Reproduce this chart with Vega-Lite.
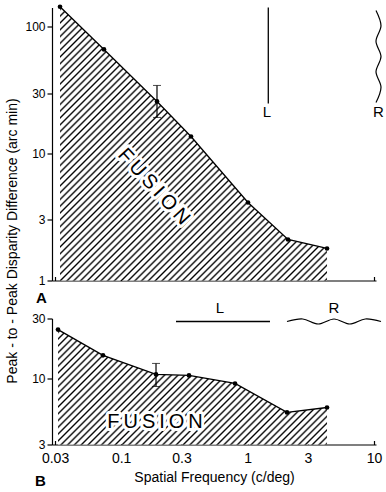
{
"$schema": "https://vega.github.io/schema/vega-lite/v6.json",
"background": "white",
"padding": {"left": 4, "top": 3.5, "right": 2, "bottom": 2},
"config": {
  "font": "Liberation Sans",
  "view": {"stroke": null},
  "axis": {"domainColor": "#000", "tickColor": "#000", "labelColor": "#000", "titleColor": "#000", "grid": false, "domainWidth": 1.2, "tickWidth": 1.2, "labelFlush": false},
  "text": {"color": "#000"}
},
"datasets": {
  "curveA": [{"f":0.03283,"v":144},{"f":0.07315,"v":66.3},{"f":0.1921,"v":25.8},{"f":0.3569,"v":13.65},{"f":1.008,"v":4.12},{"f":2.089,"v":2.105},{"f":4.253,"v":1.788}],
  "errA": [{"f":0.1921,"v":19.3,"v2":34.5}],
  "fusA": [{"label":"F\u2009U\u2009S\u2009I\u2009O\u2009N","f":0.1813,"v":5.49}],
  "lineLA": [{"i":0,"f":1.459,"v":142},{"i":1,"f":1.459,"v":24.86}],
  "waveA": [{"i":0,"f":10.38,"v":134.5},{"i":1,"f":11.37,"v":101.9},{"i":2,"f":10.38,"v":77.0},{"i":3,"f":11.37,"v":58.3},{"i":4,"f":10.38,"v":44.2},{"i":5,"f":11.37,"v":33.4},{"i":6,"f":10.38,"v":25.3}],
  "lblA": [{"label":"L","f":1.425,"v":19.28},{"label":"R","f":10.87,"v":19.28}],
  "tagA": [{"label":"A","f":0.0212,"v":0.659}],
  "curveB": [{"f":0.03166,"v":24.5},{"f":0.07186,"v":15.3},{"f":0.1887,"v":10.8},{"f":0.3441,"v":10.6},{"f":0.7957,"v":9.15},{"f":2.051,"v":5.39},{"f":4.253,"v":5.9}],
  "errB": [{"f":0.1887,"v":8.66,"v2":13.2}],
  "fusB": [{"label":"F\u2009U\u2009S\u2009I\u2009O\u2009N","f":0.1853,"v":4.53}],
  "lineLB": [{"i":0,"f":0.2716,"v":28.4},{"i":1,"f":1.505,"v":28.4}],
  "waveB": [{"i":0,"f":2.051,"v":28.4},{"i":1,"f":2.732,"v":29.73},{"i":2,"f":3.628,"v":27.13},{"i":3,"f":4.831,"v":29.73},{"i":4,"f":6.43,"v":27.13},{"i":5,"f":8.54,"v":29.73},{"i":6,"f":11.37,"v":28.4}],
  "lblB": [{"label":"L","f":0.6053,"v":32.9},{"label":"R","f":4.83,"v":32.9}],
  "tagB": [{"label":"B","f":0.02082,"v":1.393}]
},
"spacing": 38,
"bounds": "flush",
"vconcat": [
{
  "width": 324, "height": 273,
  "layer": [
    {"data": {"name": "curveA"},
     "mark": {"type": "area", "fill": {"gradient": "linear", "x1": 0, "y1": 0, "x2": 0.9914, "y2": 1.0167, "stops": [
{"offset":0.0015,"color":"#fff"},{"offset":0.005,"color":"#000"},{"offset":0.0085,"color":"#fff"},{"offset":0.014,"color":"#fff"},{"offset":0.0175,"color":"#000"},{"offset":0.021,"color":"#fff"},{"offset":0.0265,"color":"#fff"},{"offset":0.03,"color":"#000"},{"offset":0.0335,"color":"#fff"},{"offset":0.039,"color":"#fff"},{"offset":0.0425,"color":"#000"},{"offset":0.046,"color":"#fff"},{"offset":0.0515,"color":"#fff"},{"offset":0.055,"color":"#000"},{"offset":0.0585,"color":"#fff"},{"offset":0.064,"color":"#fff"},{"offset":0.0675,"color":"#000"},{"offset":0.071,"color":"#fff"},{"offset":0.0765,"color":"#fff"},{"offset":0.08,"color":"#000"},{"offset":0.0835,"color":"#fff"},{"offset":0.089,"color":"#fff"},{"offset":0.0925,"color":"#000"},{"offset":0.096,"color":"#fff"},
{"offset":0.1015,"color":"#fff"},{"offset":0.105,"color":"#000"},{"offset":0.1085,"color":"#fff"},{"offset":0.114,"color":"#fff"},{"offset":0.1175,"color":"#000"},{"offset":0.121,"color":"#fff"},{"offset":0.1265,"color":"#fff"},{"offset":0.13,"color":"#000"},{"offset":0.1335,"color":"#fff"},{"offset":0.139,"color":"#fff"},{"offset":0.1425,"color":"#000"},{"offset":0.146,"color":"#fff"},{"offset":0.1515,"color":"#fff"},{"offset":0.155,"color":"#000"},{"offset":0.1585,"color":"#fff"},{"offset":0.164,"color":"#fff"},{"offset":0.1675,"color":"#000"},{"offset":0.171,"color":"#fff"},{"offset":0.1765,"color":"#fff"},{"offset":0.18,"color":"#000"},{"offset":0.1835,"color":"#fff"},{"offset":0.189,"color":"#fff"},{"offset":0.1925,"color":"#000"},{"offset":0.196,"color":"#fff"},
{"offset":0.2015,"color":"#fff"},{"offset":0.205,"color":"#000"},{"offset":0.2085,"color":"#fff"},{"offset":0.214,"color":"#fff"},{"offset":0.2175,"color":"#000"},{"offset":0.221,"color":"#fff"},{"offset":0.2265,"color":"#fff"},{"offset":0.23,"color":"#000"},{"offset":0.2335,"color":"#fff"},{"offset":0.239,"color":"#fff"},{"offset":0.2425,"color":"#000"},{"offset":0.246,"color":"#fff"},{"offset":0.2515,"color":"#fff"},{"offset":0.255,"color":"#000"},{"offset":0.2585,"color":"#fff"},{"offset":0.264,"color":"#fff"},{"offset":0.2675,"color":"#000"},{"offset":0.271,"color":"#fff"},{"offset":0.2765,"color":"#fff"},{"offset":0.28,"color":"#000"},{"offset":0.2835,"color":"#fff"},{"offset":0.289,"color":"#fff"},{"offset":0.2925,"color":"#000"},{"offset":0.296,"color":"#fff"},
{"offset":0.3015,"color":"#fff"},{"offset":0.305,"color":"#000"},{"offset":0.3085,"color":"#fff"},{"offset":0.314,"color":"#fff"},{"offset":0.3175,"color":"#000"},{"offset":0.321,"color":"#fff"},{"offset":0.3265,"color":"#fff"},{"offset":0.33,"color":"#000"},{"offset":0.3335,"color":"#fff"},{"offset":0.339,"color":"#fff"},{"offset":0.3425,"color":"#000"},{"offset":0.346,"color":"#fff"},{"offset":0.3515,"color":"#fff"},{"offset":0.355,"color":"#000"},{"offset":0.3585,"color":"#fff"},{"offset":0.364,"color":"#fff"},{"offset":0.3675,"color":"#000"},{"offset":0.371,"color":"#fff"},{"offset":0.3765,"color":"#fff"},{"offset":0.38,"color":"#000"},{"offset":0.3835,"color":"#fff"},{"offset":0.389,"color":"#fff"},{"offset":0.3925,"color":"#000"},{"offset":0.396,"color":"#fff"},
{"offset":0.4015,"color":"#fff"},{"offset":0.405,"color":"#000"},{"offset":0.4085,"color":"#fff"},{"offset":0.414,"color":"#fff"},{"offset":0.4175,"color":"#000"},{"offset":0.421,"color":"#fff"},{"offset":0.4265,"color":"#fff"},{"offset":0.43,"color":"#000"},{"offset":0.4335,"color":"#fff"},{"offset":0.439,"color":"#fff"},{"offset":0.4425,"color":"#000"},{"offset":0.446,"color":"#fff"},{"offset":0.4515,"color":"#fff"},{"offset":0.455,"color":"#000"},{"offset":0.4585,"color":"#fff"},{"offset":0.464,"color":"#fff"},{"offset":0.4675,"color":"#000"},{"offset":0.471,"color":"#fff"},{"offset":0.4765,"color":"#fff"},{"offset":0.48,"color":"#000"},{"offset":0.4835,"color":"#fff"},{"offset":0.489,"color":"#fff"},{"offset":0.4925,"color":"#000"},{"offset":0.496,"color":"#fff"},
{"offset":0.5015,"color":"#fff"},{"offset":0.505,"color":"#000"},{"offset":0.5085,"color":"#fff"},{"offset":0.514,"color":"#fff"},{"offset":0.5175,"color":"#000"},{"offset":0.521,"color":"#fff"},{"offset":0.5265,"color":"#fff"},{"offset":0.53,"color":"#000"},{"offset":0.5335,"color":"#fff"},{"offset":0.539,"color":"#fff"},{"offset":0.5425,"color":"#000"},{"offset":0.546,"color":"#fff"},{"offset":0.5515,"color":"#fff"},{"offset":0.555,"color":"#000"},{"offset":0.5585,"color":"#fff"},{"offset":0.564,"color":"#fff"},{"offset":0.5675,"color":"#000"},{"offset":0.571,"color":"#fff"},{"offset":0.5765,"color":"#fff"},{"offset":0.58,"color":"#000"},{"offset":0.5835,"color":"#fff"},{"offset":0.589,"color":"#fff"},{"offset":0.5925,"color":"#000"},{"offset":0.596,"color":"#fff"},
{"offset":0.6015,"color":"#fff"},{"offset":0.605,"color":"#000"},{"offset":0.6085,"color":"#fff"},{"offset":0.614,"color":"#fff"},{"offset":0.6175,"color":"#000"},{"offset":0.621,"color":"#fff"},{"offset":0.6265,"color":"#fff"},{"offset":0.63,"color":"#000"},{"offset":0.6335,"color":"#fff"},{"offset":0.639,"color":"#fff"},{"offset":0.6425,"color":"#000"},{"offset":0.646,"color":"#fff"},{"offset":0.6515,"color":"#fff"},{"offset":0.655,"color":"#000"},{"offset":0.6585,"color":"#fff"},{"offset":0.664,"color":"#fff"},{"offset":0.6675,"color":"#000"},{"offset":0.671,"color":"#fff"},{"offset":0.6765,"color":"#fff"},{"offset":0.68,"color":"#000"},{"offset":0.6835,"color":"#fff"},{"offset":0.689,"color":"#fff"},{"offset":0.6925,"color":"#000"},{"offset":0.696,"color":"#fff"},
{"offset":0.7015,"color":"#fff"},{"offset":0.705,"color":"#000"},{"offset":0.7085,"color":"#fff"},{"offset":0.714,"color":"#fff"},{"offset":0.7175,"color":"#000"},{"offset":0.721,"color":"#fff"},{"offset":0.7265,"color":"#fff"},{"offset":0.73,"color":"#000"},{"offset":0.7335,"color":"#fff"},{"offset":0.739,"color":"#fff"},{"offset":0.7425,"color":"#000"},{"offset":0.746,"color":"#fff"},{"offset":0.7515,"color":"#fff"},{"offset":0.755,"color":"#000"},{"offset":0.7585,"color":"#fff"},{"offset":0.764,"color":"#fff"},{"offset":0.7675,"color":"#000"},{"offset":0.771,"color":"#fff"},{"offset":0.7765,"color":"#fff"},{"offset":0.78,"color":"#000"},{"offset":0.7835,"color":"#fff"},{"offset":0.789,"color":"#fff"},{"offset":0.7925,"color":"#000"},{"offset":0.796,"color":"#fff"},
{"offset":0.8015,"color":"#fff"},{"offset":0.805,"color":"#000"},{"offset":0.8085,"color":"#fff"},{"offset":0.814,"color":"#fff"},{"offset":0.8175,"color":"#000"},{"offset":0.821,"color":"#fff"},{"offset":0.8265,"color":"#fff"},{"offset":0.83,"color":"#000"},{"offset":0.8335,"color":"#fff"},{"offset":0.839,"color":"#fff"},{"offset":0.8425,"color":"#000"},{"offset":0.846,"color":"#fff"},{"offset":0.8515,"color":"#fff"},{"offset":0.855,"color":"#000"},{"offset":0.8585,"color":"#fff"},{"offset":0.864,"color":"#fff"},{"offset":0.8675,"color":"#000"},{"offset":0.871,"color":"#fff"},{"offset":0.8765,"color":"#fff"},{"offset":0.88,"color":"#000"},{"offset":0.8835,"color":"#fff"},{"offset":0.889,"color":"#fff"},{"offset":0.8925,"color":"#000"},{"offset":0.896,"color":"#fff"},
{"offset":0.9015,"color":"#fff"},{"offset":0.905,"color":"#000"},{"offset":0.9085,"color":"#fff"},{"offset":0.914,"color":"#fff"},{"offset":0.9175,"color":"#000"},{"offset":0.921,"color":"#fff"},{"offset":0.9265,"color":"#fff"},{"offset":0.93,"color":"#000"},{"offset":0.9335,"color":"#fff"},{"offset":0.939,"color":"#fff"},{"offset":0.9425,"color":"#000"},{"offset":0.946,"color":"#fff"},{"offset":0.9515,"color":"#fff"},{"offset":0.955,"color":"#000"},{"offset":0.9585,"color":"#fff"},{"offset":0.964,"color":"#fff"},{"offset":0.9675,"color":"#000"},{"offset":0.971,"color":"#fff"},{"offset":0.9765,"color":"#fff"},{"offset":0.98,"color":"#000"},{"offset":0.9835,"color":"#fff"},{"offset":0.989,"color":"#fff"},{"offset":0.9925,"color":"#000"},{"offset":0.996,"color":"#fff"}
     ]}},
     "encoding": {
       "x": {"field": "f", "type": "quantitative", "scale": {"type": "log", "domain": [0.02837, 10.38], "nice": false},
             "axis": {"values": [0.03, 0.1, 0.3, 1, 3, 10], "labels": false, "tickSize": -4, "title": null}},
       "y": {"field": "v", "type": "quantitative", "scale": {"type": "log", "domain": [1, 142], "nice": false},
             "axis": {"values": [1, 3, 10, 30, 100], "format": "~g", "tickSize": 5, "labelFontSize": 12, "labelPadding": 2,
                      "title": "Peak - to - Peak Disparity Difference (arc min)", "titleFontSize": 14, "titleFontWeight": "normal",
                      "titleAngle": 270, "titleBaseline": "alphabetic", "titleAlign": "center", "titleX": -36, "titleY": 233}},
       "y2": {"datum": 1}
     }},
    {"data": {"name": "fusA"},
     "mark": {"type": "text", "angle": 47.5, "fontSize": 20, "align": "center", "baseline": "middle", "fill": "#fff", "stroke": "#fff", "strokeWidth": 6, "strokeJoin": "round"},
     "encoding": {"x": {"field": "f", "type": "quantitative"}, "y": {"field": "v", "type": "quantitative"}, "text": {"field": "label"}}},
    {"data": {"name": "fusA"},
     "mark": {"type": "text", "angle": 47.5, "fontSize": 20, "align": "center", "baseline": "middle", "fill": "#000"},
     "encoding": {"x": {"field": "f", "type": "quantitative"}, "y": {"field": "v", "type": "quantitative"}, "text": {"field": "label"}}},
    {"data": {"name": "curveA"},
     "mark": {"type": "line", "color": "#000", "strokeWidth": 1.3},
     "encoding": {"x": {"field": "f", "type": "quantitative"}, "y": {"field": "v", "type": "quantitative"}}},
    {"data": {"name": "curveA"},
     "mark": {"type": "point", "filled": true, "color": "#000", "opacity": 1, "size": 22},
     "encoding": {"x": {"field": "f", "type": "quantitative"}, "y": {"field": "v", "type": "quantitative"}}},
    {"data": {"name": "errA"},
     "mark": {"type": "errorbar", "color": "#000", "ticks": {"size": 8, "color": "#000"}, "rule": {"color": "#000", "strokeWidth": 1.2}},
     "encoding": {"x": {"field": "f", "type": "quantitative"}, "y": {"field": "v", "type": "quantitative", "title": "Peak - to - Peak Disparity Difference (arc min)"}, "y2": {"field": "v2"}}},
    {"data": {"name": "lineLA"},
     "mark": {"type": "line", "color": "#000", "strokeWidth": 1.3},
     "encoding": {"x": {"field": "f", "type": "quantitative"}, "y": {"field": "v", "type": "quantitative"}, "order": {"field": "i", "type": "quantitative"}}},
    {"data": {"name": "waveA"},
     "mark": {"type": "line", "color": "#000", "strokeWidth": 1.2, "interpolate": "cardinal"},
     "encoding": {"x": {"field": "f", "type": "quantitative"}, "y": {"field": "v", "type": "quantitative"}, "order": {"field": "i", "type": "quantitative"}}},
    {"data": {"name": "lblA"},
     "mark": {"type": "text", "fontSize": 15, "align": "center", "baseline": "alphabetic"},
     "encoding": {"x": {"field": "f", "type": "quantitative"}, "y": {"field": "v", "type": "quantitative"}, "text": {"field": "label"}}},
    {"data": {"name": "tagA"},
     "mark": {"type": "text", "fontSize": 15, "fontWeight": "bold", "align": "left", "baseline": "alphabetic"},
     "encoding": {"x": {"field": "f", "type": "quantitative"}, "y": {"field": "v", "type": "quantitative"}, "text": {"field": "label"}}}
  ]
},
{
  "width": 324, "height": 126,
  "layer": [
    {"data": {"name": "curveB"},
     "mark": {"type": "area", "fill": {"gradient": "linear", "x1": 0, "y1": 0, "x2": 1.7073, "y2": 0.7292, "stops": [
{"offset":0.0015,"color":"#fff"},{"offset":0.005,"color":"#000"},{"offset":0.0085,"color":"#fff"},{"offset":0.014,"color":"#fff"},{"offset":0.0175,"color":"#000"},{"offset":0.021,"color":"#fff"},{"offset":0.0265,"color":"#fff"},{"offset":0.03,"color":"#000"},{"offset":0.0335,"color":"#fff"},{"offset":0.039,"color":"#fff"},{"offset":0.0425,"color":"#000"},{"offset":0.046,"color":"#fff"},{"offset":0.0515,"color":"#fff"},{"offset":0.055,"color":"#000"},{"offset":0.0585,"color":"#fff"},{"offset":0.064,"color":"#fff"},{"offset":0.0675,"color":"#000"},{"offset":0.071,"color":"#fff"},{"offset":0.0765,"color":"#fff"},{"offset":0.08,"color":"#000"},{"offset":0.0835,"color":"#fff"},{"offset":0.089,"color":"#fff"},{"offset":0.0925,"color":"#000"},{"offset":0.096,"color":"#fff"},
{"offset":0.1015,"color":"#fff"},{"offset":0.105,"color":"#000"},{"offset":0.1085,"color":"#fff"},{"offset":0.114,"color":"#fff"},{"offset":0.1175,"color":"#000"},{"offset":0.121,"color":"#fff"},{"offset":0.1265,"color":"#fff"},{"offset":0.13,"color":"#000"},{"offset":0.1335,"color":"#fff"},{"offset":0.139,"color":"#fff"},{"offset":0.1425,"color":"#000"},{"offset":0.146,"color":"#fff"},{"offset":0.1515,"color":"#fff"},{"offset":0.155,"color":"#000"},{"offset":0.1585,"color":"#fff"},{"offset":0.164,"color":"#fff"},{"offset":0.1675,"color":"#000"},{"offset":0.171,"color":"#fff"},{"offset":0.1765,"color":"#fff"},{"offset":0.18,"color":"#000"},{"offset":0.1835,"color":"#fff"},{"offset":0.189,"color":"#fff"},{"offset":0.1925,"color":"#000"},{"offset":0.196,"color":"#fff"},
{"offset":0.2015,"color":"#fff"},{"offset":0.205,"color":"#000"},{"offset":0.2085,"color":"#fff"},{"offset":0.214,"color":"#fff"},{"offset":0.2175,"color":"#000"},{"offset":0.221,"color":"#fff"},{"offset":0.2265,"color":"#fff"},{"offset":0.23,"color":"#000"},{"offset":0.2335,"color":"#fff"},{"offset":0.239,"color":"#fff"},{"offset":0.2425,"color":"#000"},{"offset":0.246,"color":"#fff"},{"offset":0.2515,"color":"#fff"},{"offset":0.255,"color":"#000"},{"offset":0.2585,"color":"#fff"},{"offset":0.264,"color":"#fff"},{"offset":0.2675,"color":"#000"},{"offset":0.271,"color":"#fff"},{"offset":0.2765,"color":"#fff"},{"offset":0.28,"color":"#000"},{"offset":0.2835,"color":"#fff"},{"offset":0.289,"color":"#fff"},{"offset":0.2925,"color":"#000"},{"offset":0.296,"color":"#fff"},
{"offset":0.3015,"color":"#fff"},{"offset":0.305,"color":"#000"},{"offset":0.3085,"color":"#fff"},{"offset":0.314,"color":"#fff"},{"offset":0.3175,"color":"#000"},{"offset":0.321,"color":"#fff"},{"offset":0.3265,"color":"#fff"},{"offset":0.33,"color":"#000"},{"offset":0.3335,"color":"#fff"},{"offset":0.339,"color":"#fff"},{"offset":0.3425,"color":"#000"},{"offset":0.346,"color":"#fff"},{"offset":0.3515,"color":"#fff"},{"offset":0.355,"color":"#000"},{"offset":0.3585,"color":"#fff"},{"offset":0.364,"color":"#fff"},{"offset":0.3675,"color":"#000"},{"offset":0.371,"color":"#fff"},{"offset":0.3765,"color":"#fff"},{"offset":0.38,"color":"#000"},{"offset":0.3835,"color":"#fff"},{"offset":0.389,"color":"#fff"},{"offset":0.3925,"color":"#000"},{"offset":0.396,"color":"#fff"},
{"offset":0.4015,"color":"#fff"},{"offset":0.405,"color":"#000"},{"offset":0.4085,"color":"#fff"},{"offset":0.414,"color":"#fff"},{"offset":0.4175,"color":"#000"},{"offset":0.421,"color":"#fff"},{"offset":0.4265,"color":"#fff"},{"offset":0.43,"color":"#000"},{"offset":0.4335,"color":"#fff"},{"offset":0.439,"color":"#fff"},{"offset":0.4425,"color":"#000"},{"offset":0.446,"color":"#fff"},{"offset":0.4515,"color":"#fff"},{"offset":0.455,"color":"#000"},{"offset":0.4585,"color":"#fff"},{"offset":0.464,"color":"#fff"},{"offset":0.4675,"color":"#000"},{"offset":0.471,"color":"#fff"},{"offset":0.4765,"color":"#fff"},{"offset":0.48,"color":"#000"},{"offset":0.4835,"color":"#fff"},{"offset":0.489,"color":"#fff"},{"offset":0.4925,"color":"#000"},{"offset":0.496,"color":"#fff"},
{"offset":0.5015,"color":"#fff"},{"offset":0.505,"color":"#000"},{"offset":0.5085,"color":"#fff"},{"offset":0.514,"color":"#fff"},{"offset":0.5175,"color":"#000"},{"offset":0.521,"color":"#fff"},{"offset":0.5265,"color":"#fff"},{"offset":0.53,"color":"#000"},{"offset":0.5335,"color":"#fff"},{"offset":0.539,"color":"#fff"},{"offset":0.5425,"color":"#000"},{"offset":0.546,"color":"#fff"},{"offset":0.5515,"color":"#fff"},{"offset":0.555,"color":"#000"},{"offset":0.5585,"color":"#fff"},{"offset":0.564,"color":"#fff"},{"offset":0.5675,"color":"#000"},{"offset":0.571,"color":"#fff"},{"offset":0.5765,"color":"#fff"},{"offset":0.58,"color":"#000"},{"offset":0.5835,"color":"#fff"},{"offset":0.589,"color":"#fff"},{"offset":0.5925,"color":"#000"},{"offset":0.596,"color":"#fff"},
{"offset":0.6015,"color":"#fff"},{"offset":0.605,"color":"#000"},{"offset":0.6085,"color":"#fff"},{"offset":0.614,"color":"#fff"},{"offset":0.6175,"color":"#000"},{"offset":0.621,"color":"#fff"},{"offset":0.6265,"color":"#fff"},{"offset":0.63,"color":"#000"},{"offset":0.6335,"color":"#fff"},{"offset":0.639,"color":"#fff"},{"offset":0.6425,"color":"#000"},{"offset":0.646,"color":"#fff"},{"offset":0.6515,"color":"#fff"},{"offset":0.655,"color":"#000"},{"offset":0.6585,"color":"#fff"},{"offset":0.664,"color":"#fff"},{"offset":0.6675,"color":"#000"},{"offset":0.671,"color":"#fff"},{"offset":0.6765,"color":"#fff"},{"offset":0.68,"color":"#000"},{"offset":0.6835,"color":"#fff"},{"offset":0.689,"color":"#fff"},{"offset":0.6925,"color":"#000"},{"offset":0.696,"color":"#fff"},
{"offset":0.7015,"color":"#fff"},{"offset":0.705,"color":"#000"},{"offset":0.7085,"color":"#fff"},{"offset":0.714,"color":"#fff"},{"offset":0.7175,"color":"#000"},{"offset":0.721,"color":"#fff"},{"offset":0.7265,"color":"#fff"},{"offset":0.73,"color":"#000"},{"offset":0.7335,"color":"#fff"},{"offset":0.739,"color":"#fff"},{"offset":0.7425,"color":"#000"},{"offset":0.746,"color":"#fff"},{"offset":0.7515,"color":"#fff"},{"offset":0.755,"color":"#000"},{"offset":0.7585,"color":"#fff"},{"offset":0.764,"color":"#fff"},{"offset":0.7675,"color":"#000"},{"offset":0.771,"color":"#fff"},{"offset":0.7765,"color":"#fff"},{"offset":0.78,"color":"#000"},{"offset":0.7835,"color":"#fff"},{"offset":0.789,"color":"#fff"},{"offset":0.7925,"color":"#000"},{"offset":0.796,"color":"#fff"}
     ]}},
     "encoding": {
       "x": {"field": "f", "type": "quantitative", "scale": {"type": "log", "domain": [0.02837, 10.38], "nice": false},
             "axis": {"values": [0.03, 0.1, 0.3, 1, 3, 10], "format": "~g", "labelFontSize": 14, "tickSize": -4, "labelPadding": 11,
                      "title": "Spatial Frequency (c/deg)", "titleFontSize": 14, "titleFontWeight": "normal", "titlePadding": 5}},
       "y": {"field": "v", "type": "quantitative", "scale": {"type": "log", "domain": [3, 30], "nice": false},
             "axis": {"values": [3, 10, 30], "format": "~g", "tickSize": 5, "labelFontSize": 12, "labelPadding": 2, "title": null}},
       "y2": {"datum": 3}
     }},
    {"data": {"name": "fusB"},
     "mark": {"type": "text", "fontSize": 20, "align": "center", "baseline": "middle", "fill": "#fff", "stroke": "#fff", "strokeWidth": 6, "strokeJoin": "round"},
     "encoding": {"x": {"field": "f", "type": "quantitative"}, "y": {"field": "v", "type": "quantitative"}, "text": {"field": "label"}}},
    {"data": {"name": "fusB"},
     "mark": {"type": "text", "fontSize": 20, "align": "center", "baseline": "middle", "fill": "#000"},
     "encoding": {"x": {"field": "f", "type": "quantitative"}, "y": {"field": "v", "type": "quantitative"}, "text": {"field": "label"}}},
    {"data": {"name": "curveB"},
     "mark": {"type": "line", "color": "#000", "strokeWidth": 1.3},
     "encoding": {"x": {"field": "f", "type": "quantitative"}, "y": {"field": "v", "type": "quantitative"}}},
    {"data": {"name": "curveB"},
     "mark": {"type": "point", "filled": true, "color": "#000", "opacity": 1, "size": 22},
     "encoding": {"x": {"field": "f", "type": "quantitative"}, "y": {"field": "v", "type": "quantitative"}}},
    {"data": {"name": "errB"},
     "mark": {"type": "errorbar", "color": "#000", "ticks": {"size": 8, "color": "#000"}, "rule": {"color": "#000", "strokeWidth": 1.2}},
     "encoding": {"x": {"field": "f", "type": "quantitative"}, "y": {"field": "v", "type": "quantitative", "title": null}, "y2": {"field": "v2"}}},
    {"data": {"name": "lineLB"},
     "mark": {"type": "line", "color": "#000", "strokeWidth": 1.3},
     "encoding": {"x": {"field": "f", "type": "quantitative"}, "y": {"field": "v", "type": "quantitative"}, "order": {"field": "i", "type": "quantitative"}}},
    {"data": {"name": "waveB"},
     "mark": {"type": "line", "color": "#000", "strokeWidth": 1.2, "interpolate": "cardinal"},
     "encoding": {"x": {"field": "f", "type": "quantitative"}, "y": {"field": "v", "type": "quantitative"}, "order": {"field": "i", "type": "quantitative"}}},
    {"data": {"name": "lblB"},
     "mark": {"type": "text", "fontSize": 15, "align": "center", "baseline": "alphabetic"},
     "encoding": {"x": {"field": "f", "type": "quantitative"}, "y": {"field": "v", "type": "quantitative"}, "text": {"field": "label"}}},
    {"data": {"name": "tagB"},
     "mark": {"type": "text", "fontSize": 15, "fontWeight": "bold", "align": "left", "baseline": "alphabetic"},
     "encoding": {"x": {"field": "f", "type": "quantitative"}, "y": {"field": "v", "type": "quantitative"}, "text": {"field": "label"}}}
  ]
}
]
}
